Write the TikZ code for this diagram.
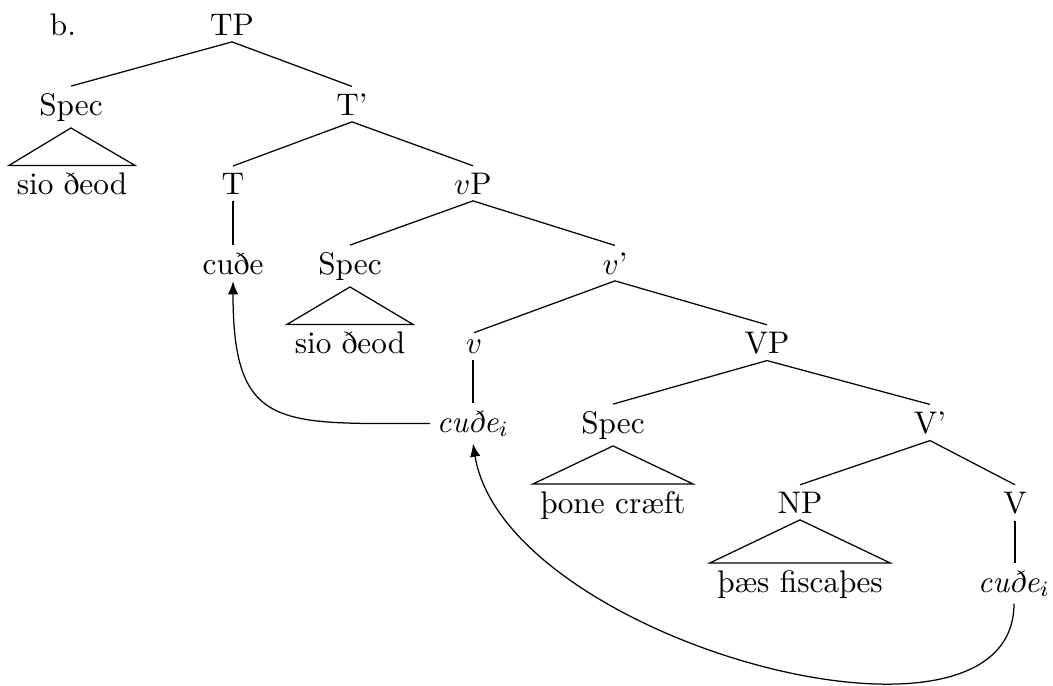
\documentclass[tikz,border=0pt]{standalone}
\usetikzlibrary{arrows.meta}
\begin{document}
\begin{tikzpicture}[x=0.32pt,y=-0.32pt,
  lab/.style={anchor=base,inner sep=2pt},
  tri/.style={anchor=base,inner ysep=2pt,inner xsep=2.3pt},
  edge/.style={line width=0.4pt},
  mv/.style={line width=0.4pt,-{Latex[length=4.2pt,width=3.3pt]}}]
\useasboundingbox (0,0) rectangle (1053,685);
% labels
\node[lab] (b) at (63,35) {b.};
\node[lab] (TP) at (232,35) {TP};
\node[lab] (SpecA) at (71,115) {Spec};
\node[tri] (sioA) at (72,194) {sio ðeod};
\node[lab] (Tbar) at (352,115) {T’};
\node[lab] (T) at (233,194) {T};
\node[lab] (cude) at (233,274) {cuðe};
\node[lab] (vP) at (473,194) {$v$P};
\node[lab] (SpecB) at (350,274) {Spec};
\node[tri] (sioB) at (350,353) {sio ðeod};
\node[lab] (vbar) at (615,274) {$v$’};
\node[lab] (v) at (474,353) {$v$};
\node[lab] (vcude) at (473,432) {\textit{cuðe}$_i$};
\node[lab] (VP) at (767,353) {VP};
\node[lab] (SpecC) at (613,433) {Spec};
\node[tri] (thone) at (613,513) {þone cræft};
\node[lab] (Vbar) at (930,433) {V’};
\node[lab] (NP) at (800,513) {NP};
\node[tri] (thaes) at (800,592) {þæs fiscaþes};
\node[lab] (V) at (1015,513) {V};
\node[lab] (Vcude) at (1014,592) {\textit{cuðe}$_i$};
% branches
\draw[edge] (SpecA.north) -- (TP.south) -- (Tbar.north);
\draw[edge] (T.north) -- (Tbar.south) -- (vP.north);
\draw[edge] (T.south) -- (cude.north);
\draw[edge] (SpecB.north) -- (vP.south) -- (vbar.north);
\draw[edge] (v.north) -- (vbar.south) -- (VP.north);
\draw[edge] (vcude.north |- v.south) -- (vcude.north);
\draw[edge] (SpecC.north) -- (VP.south) -- (Vbar.north);
\draw[edge] (NP.north) -- (Vbar.south) -- (V.north);
\draw[edge] (V.south) -- (V.south |- Vcude.north);
% triangles
\draw[edge] (SpecA.south) -- (sioA.north west) -- (sioA.north east) -- cycle;
\draw[edge] (SpecB.south) -- (sioB.north west) -- (sioB.north east) -- cycle;
\draw[edge] (SpecC.south) -- (thone.north west) -- (thone.north east) -- cycle;
\draw[edge] (NP.south) -- (thaes.north west) -- (thaes.north east) -- cycle;
% movement arrows
\draw[mv] (vcude.west) .. controls +(-150,0) and +(0,150) .. (cude.south);
\draw[mv] (Vcude.south) .. controls +(0,175) and +(32,197) .. (vcude.south);
\end{tikzpicture}
\end{document}
